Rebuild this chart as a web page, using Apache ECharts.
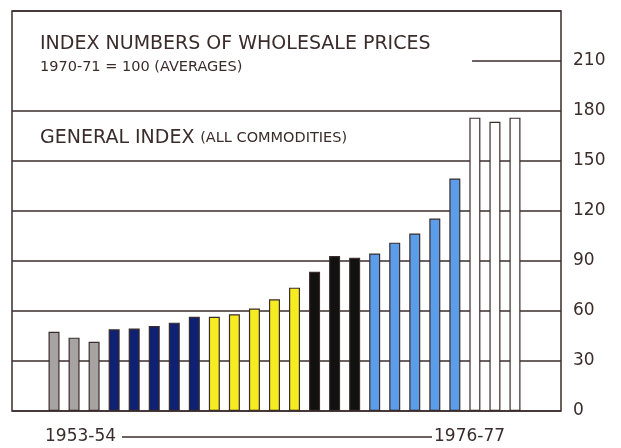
<!DOCTYPE html>
<html>
<head>
<meta charset="utf-8">
<script src="https://cdn.jsdelivr.net/npm/echarts@6/dist/echarts.min.js"></script>
<style>
html,body{margin:0;padding:0;background:#fff;}
#chart{width:621px;height:448px;}
</style>
</head>
<body>
<div id="chart"></div>
<script>
// years 1953-54 .. 1976-77
var years = ['1953-54','1954-55','1955-56','1956-57','1957-58','1958-59','1959-60','1960-61',
    '1961-62','1962-63','1963-64','1964-65','1965-66','1966-67','1967-68','1968-69',
    '1969-70','1970-71','1971-72','1972-73','1973-74','1974-75','1975-76','1976-77'];
var indexValues = [47.5, 44, 41.5,
    49, 49.5, 51, 53, 56.5,
    56.5, 58, 61.5, 67, 74,
    83.5, 93, 92,
    94.5, 101, 106.5, 115.5, 139.5,
    176, 173.5, 176];
// bars per colour group, left to right
var groupSizes = [3, 5, 5, 3, 5, 3];
var yTicks = [0, 30, 60, 90, 120, 150, 180, 210, 240];

var ink = '#3b2c2c';
var groupColors = ['#a8a3a3', '#0e2172', '#f6ec22', '#111111', '#5c9de9', '#ffffff'];

function groupOf(i){
    var n = 0;
    for (var g = 0; g < groupSizes.length; g++) {
        n += groupSizes[g];
        if (i < n) return g;
    }
    return groupSizes.length - 1;
}

// hide the 210 line across the text area, redraw it only at the right
var splitColors = yTicks.map(function(t){ return t === 210 ? 'rgba(0,0,0,0)' : ink; });

var chart = echarts.init(document.getElementById('chart'));
chart.setOption({
    backgroundColor: '#fff',
    animation: false,
    textStyle: {fontFamily: 'DejaVu Sans', color: ink},
    title: [{
        text: 'INDEX NUMBERS OF WHOLESALE PRICES',
        subtext: '1970-71 = 100 (AVERAGES)',
        left: 35, top: 30, itemGap: 6,
        textStyle: {fontSize: 19, fontWeight: 'normal', color: ink, fontFamily: 'DejaVu Sans'},
        subtextStyle: {fontSize: 14.5, color: ink, fontFamily: 'DejaVu Sans'}
    }, {
        text: '{a|GENERAL INDEX} {b|(ALL COMMODITIES)}',
        left: 35, top: 124,
        textStyle: {
            fontWeight: 'normal',
            rich: {
                a: {fontSize: 19, color: ink, fontFamily: 'DejaVu Sans'},
                b: {fontSize: 14.5, color: ink, fontFamily: 'DejaVu Sans'}
            }
        }
    }],
    grid: [
        {left: 12, right: 60, top: 11, bottom: 37, show: true, borderColor: ink, borderWidth: 1.5, backgroundColor: 'transparent'},
        {left: 44, right: 96, top: 11, bottom: 37}
    ],
    xAxis: [
        {gridIndex: 0, type: 'value', min: 0, max: 100, show: false},
        {gridIndex: 1, type: 'category', data: years, show: false}
    ],
    yAxis: [{
        gridIndex: 0, type: 'value', position: 'right', min: 0, max: 240, interval: 30,
        axisLine: {show: false}, axisTick: {show: false},
        axisLabel: {
            margin: 12, fontSize: 17, color: ink, fontFamily: 'DejaVu Sans',
            formatter: function(v){ return v === 240 ? '' : String(v); }
        },
        splitLine: {show: true, lineStyle: {color: splitColors, width: 1.5}}
    }, {
        gridIndex: 1, type: 'value', min: 0, max: 240, show: false
    }],
    series: [{
        type: 'line', xAxisIndex: 0, yAxisIndex: 0, data: [], silent: true,
        markLine: {
            symbol: 'none', silent: true, label: {show: false},
            lineStyle: {color: ink, width: 1.5, type: 'solid'},
            data: [[{coord: [83.8, 210]}, {coord: [100, 210]}]]
        }
    }, {
        type: 'bar', xAxisIndex: 1, yAxisIndex: 1,
        data: indexValues, barWidth: 11,
        itemStyle: {
            borderColor: ink, borderWidth: 1.2,
            color: function(p){ return groupColors[groupOf(p.dataIndex)]; }
        }
    }],
    graphic: [{
        type: 'text', left: 45, top: 428,
        style: {text: years[0], font: '17px "DejaVu Sans"', fill: ink}
    }, {
        type: 'line', shape: {x1: 122, y1: 437, x2: 432, y2: 437},
        style: {stroke: ink, lineWidth: 1.5}
    }, {
        type: 'text', left: 434, top: 428,
        style: {text: years[years.length - 1], font: '17px "DejaVu Sans"', fill: ink}
    }]
});
</script>
</body>
</html>
